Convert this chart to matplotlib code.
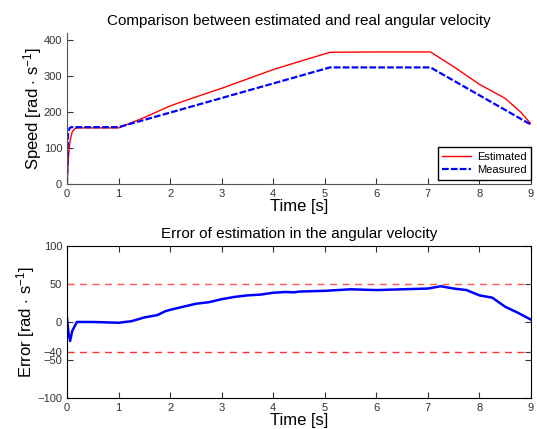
import matplotlib
matplotlib.use("Agg")
import matplotlib.pyplot as plt

plt.rcParams['font.family'] = ['Liberation Sans', 'DejaVu Sans']
plt.rcParams['mathtext.fontset'] = 'custom'
plt.rcParams['mathtext.rm'] = 'Liberation Sans'
plt.rcParams['mathtext.it'] = 'Liberation Sans:italic'

# velocidad medida (azul) y estimada (rojo)
t_meas = [0, 0.02, 0.05, 0.08, 1.0, 5.1, 7.05, 9.0]
v_meas = [0, 140, 155, 158, 158, 324, 324, 165]

t_est = [0, 0.03, 0.06, 0.1, 0.15, 0.2, 1.0, 1.5, 2.0, 2.5, 3.0, 3.5, 4.0, 4.5,
         5.1, 6.0, 7.05, 7.5, 8.0, 8.5, 8.8, 9.0]
v_est = [0, 80, 120, 145, 154, 156, 156, 185, 217, 242, 266, 292, 318, 340,
         366, 367, 367, 326, 277, 238, 200, 167]

# error de estimacion
t_err = [0, 0.03, 0.06, 0.1, 0.19, 0.5, 1.0, 1.25, 1.5, 1.75, 1.9, 2.0, 2.25,
         2.5, 2.75, 3.0, 3.25, 3.5, 3.75, 4.0, 4.25, 4.4, 4.5, 5.0, 5.5, 6.0,
         6.5, 7.0, 7.25, 7.5, 7.75, 8.0, 8.25, 8.5, 8.75, 9.0]
e_err = [5, -15, -25, -12, 0, 0, -1, 1, 6, 9, 14, 16, 20,
         24, 26, 30, 33, 35, 36, 38.5, 39.5, 39, 40, 41, 43, 42,
         43, 44, 47, 44, 42, 35, 32, 20, 12, 3]

limite_sup = 50
limite_inf = -40
err_ticks = [-100, -50, -40, 0, 50, 100]

fig = plt.figure(figsize=(5.37, 4.29), dpi=100)

# grafica de arriba
ax1 = fig.add_axes([0.1248, 0.571, 0.864, 0.3524])
ax1.plot(t_est, v_est, color='red', lw=1.0, label='Estimated')
ax1.plot(t_meas, v_meas, color='blue', lw=1.6, linestyle=(0, (3, 1)), label='Measured')
ax1.set_xlim(0, 9)
ax1.set_ylim(0, 420)
ax1.set_xticks(range(0, 10))
ax1.set_yticks([0, 100, 200, 300, 400])
ax1.spines['top'].set_visible(False)
ax1.spines['right'].set_visible(False)
for s in ['left', 'bottom']:
    ax1.spines[s].set_color('#555555')
ax1.tick_params(direction='in', labelsize=8, colors='#333333', length=4)
ax1.set_title('Comparison between estimated and real angular velocity', fontsize=11, pad=6)
ax1.set_xlabel('Time [s]', fontsize=12, labelpad=0)
ax1.set_ylabel(r'Speed [rad $\cdot$ s$^{-1}$]', fontsize=12, labelpad=0)
leg = ax1.legend(loc='lower right', bbox_to_anchor=(1.0, 0.03), fontsize=8,
                 fancybox=False, framealpha=1, edgecolor='black',
                 borderaxespad=0, handlelength=2.6, borderpad=0.4,
                 labelspacing=0.3, handletextpad=0.5)
leg.get_frame().set_linewidth(1.0)

# grafica de abajo
ax2 = fig.add_axes([0.1248, 0.0723, 0.864, 0.3543])
ax2.axhline(limite_sup, color='#ff5555', lw=1.0, linestyle=(0, (5, 4)))
ax2.axhline(limite_inf, color='#ff3333', lw=1.0, linestyle=(0, (5, 4)))
ax2.plot(t_err, e_err, color='blue', lw=1.8)
ax2.set_xlim(0, 9)
ax2.set_ylim(-100, 100)
ax2.set_xticks(range(0, 10))
ax2.set_yticks(err_ticks)
ax2.tick_params(direction='in', labelsize=8, colors='#333333', length=4,
                top=True, right=True)
ax2.set_title('Error of estimation in the angular velocity', fontsize=11, pad=6)
ax2.set_xlabel('Time [s]', fontsize=12, labelpad=0)
ax2.set_ylabel(r'Error [rad $\cdot$ s$^{-1}$]', fontsize=12, labelpad=0)

fig.savefig('out.png', dpi=100)
